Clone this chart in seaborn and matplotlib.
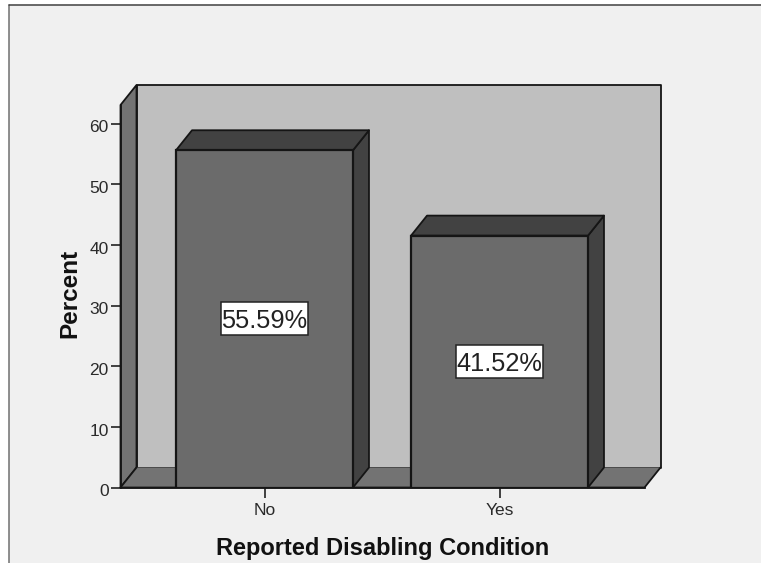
import matplotlib
matplotlib.use("Agg")
import matplotlib.pyplot as plt
from matplotlib.lines import Line2D
from matplotlib.patches import Polygon, Rectangle
from matplotlib.transforms import ScaledTranslation
import pandas as pd
import seaborn as sns

categories = ["No", "Yes"]
percents = [55.59, 41.52]
y_ticks = [0, 10, 20, 30, 40, 50, 60]

W, H = 761, 563
PANEL = "#f0f0f0"
WALL = "#bfbfbf"
FLOOR = "#737373"
FRONT = "#6b6b6b"
SHADE = "#424242"
EDGE = "#151515"

sns.set_theme(style="white")
plt.rcParams["font.family"] = ["Liberation Sans", "DejaVu Sans"]

fig = plt.figure(figsize=(W / 100, H / 100), dpi=100, facecolor="white")

# Chart panel with its thin frame on the top and left sides
fig.add_artist(Rectangle((9 / W, 0), 1 - 9 / W, 1 - 5 / H, transform=fig.transFigure,
                         facecolor=PANEL, edgecolor="none", zorder=-5))
fig.add_artist(Line2D([8.5 / W, 8.5 / W], [0, 1 - 4.5 / H], color="#707070", lw=1.1))
fig.add_artist(Line2D([8.5 / W, 1], [1 - 4.5 / H, 1 - 4.5 / H], color="#404040", lw=1.1))

left, right, bottom, top = 120.5, 644.5, 487.5, 105.0
ax = fig.add_axes([left / W, 1 - bottom / H, (right - left) / W, (bottom - top) / H])
ax.patch.set_visible(False)

df = pd.DataFrame({"category": categories, "percent": percents})
sns.barplot(data=df, x="category", y="percent", color=FRONT, saturation=1, width=0.753,
            edgecolor=EDGE, linewidth=1.6, ax=ax, zorder=4)

y_scale = 364 / 60  # pixels per percent
x_scale = 235.0     # pixels per category
x_min = -(264.5 - left) / x_scale
x_max = 1 + (right - 499.5) / x_scale
y_max = (bottom - top) / y_scale
ax.set_xlim(x_min, x_max)
ax.set_ylim(0, y_max)

# Oblique depth of the box and the bars, in data units
dx = 16.0 / x_scale
dy = 20.0 / y_scale


def face(points, color, zorder):
    ax.add_patch(Polygon(points, closed=True, facecolor=color, edgecolor=EDGE, linewidth=1.3,
                         zorder=zorder, clip_on=False, joinstyle="round"))


# Box: back wall, left wall and floor
face([(x_min + dx, dy), (x_max + dx, dy), (x_max + dx, y_max + dy), (x_min + dx, y_max + dy)], WALL, 1)
face([(x_min, 0), (x_min + dx, dy), (x_min + dx, y_max + dy), (x_min, y_max)], FLOOR, 2)
ax.add_patch(Polygon([(x_min, 0), (x_max, 0), (x_max + dx, dy), (x_min + dx, dy)], closed=True,
                     facecolor=FLOOR, edgecolor="none", zorder=2, clip_on=False))
ax.plot([x_min, x_max, x_max + dx], [0, 0, dy], color=EDGE, lw=1.3, zorder=2, clip_on=False)
ax.plot([x_min, x_min + dx], [0, dy], color=EDGE, lw=1.3, zorder=3, clip_on=False)

# Bars: side and top faces behind each front face, plus a white plate for the value label
bars = list(ax.containers[0])
for bar in bars:
    x0, x1, h = bar.get_x(), bar.get_x() + bar.get_width(), bar.get_height()
    face([(x1, 0), (x1 + dx, dy), (x1 + dx, h + dy), (x1, h)], SHADE, 3)
    face([(x0, h), (x1, h), (x1 + dx, h + dy), (x0 + dx, h + dy)], SHADE, 3)
    plate_w, plate_h = 87 / x_scale, 33 / y_scale
    ax.add_patch(Rectangle(((x0 + x1) / 2 - plate_w / 2, h / 2 - plate_h / 2), plate_w, plate_h,
                           facecolor="white", edgecolor="#222222", linewidth=1.1, zorder=5))

ax.bar_label(ax.containers[0], labels=[f"{v:.2f}%" for v in percents], label_type="center",
             fontsize=18.3, color="#222222", zorder=6, padding=-1.5)

ax.set_yticks(y_ticks)
ax.tick_params(axis="both", which="major", direction="out", length=7, width=1.2, color="#222222",
               bottom=True, left=True, labelcolor="#2a2a2a", labelsize=12.5, pad=1.5)
ax.tick_params(axis="x", pad=4)

# Value tick labels sit slightly below their tick marks
shift_down = ScaledTranslation(0, -2 / 72, fig.dpi_scale_trans)
for label in ax.get_yticklabels():
    label.set_transform(label.get_transform() + shift_down)

for name, spine in ax.spines.items():
    spine.set_visible(name in ("left", "bottom"))
    spine.set_color(EDGE)
    spine.set_linewidth(1.3)
    spine.set_zorder(5)

ax.set_xlabel("Reported Disabling Condition", fontsize=17, fontweight="bold", color="#111111", labelpad=13.5)
ax.set_ylabel("Percent", fontsize=17.5, fontweight="bold", color="#111111")
ax.yaxis.set_label_coords(-0.075, 0.508)

fig.savefig("out.png", dpi=100)
